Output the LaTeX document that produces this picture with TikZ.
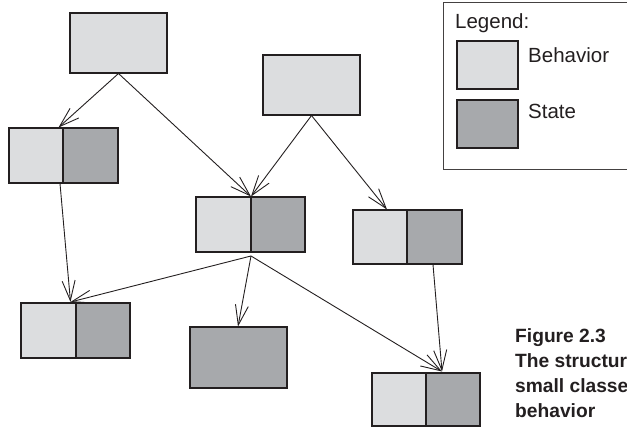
\documentclass[tikz,border=0pt]{standalone}
\usepackage{fontspec}
\setmainfont{Liberation Sans}
\usetikzlibrary{arrows.meta}
\definecolor{behav}{HTML}{DCDDDF}
\definecolor{statec}{HTML}{A7A9AC}
\definecolor{ink}{HTML}{231F20}
\tikzset{
  box/.style={draw=ink, line width=1.5pt, inner sep=0pt, rectangle},
  behavbox/.style={box, fill=behav},
  statebox/.style={box, fill=statec},
  link/.style={draw=ink, line width=0.9pt, -{Straight Barb[length=20pt, width=13pt, line width=0.9pt]}},
  legtext/.style={anchor=base west, inner sep=0pt, font=\fontsize{20.5}{24}\selectfont, text=ink},
  captext/.style={anchor=base west, inner sep=0pt, font=\fontsize{19.2}{25}\selectfont\bfseries, text=ink}
}
\begin{document}
\begin{tikzpicture}[x=1pt, y=-1pt]
\useasboundingbox (0,0) rectangle (627,427);
\begin{scope}
\clip (0,0) rectangle (627,427);
% legend
\node[draw=ink!85, line width=0.8pt, inner sep=0pt, minimum width=197pt, minimum height=167pt, anchor=north west] (legend) at (443,2) {};
\node[legtext] (legtitle) at (455,29) {Legend:};
\node[behavbox, line width=1.2pt, minimum width=61pt, minimum height=48pt] (legb) at (487.5,65) {};
\node[statebox, line width=1.2pt, minimum width=61pt, minimum height=48pt] (legs) at (487.5,124) {};
\node[legtext] (legbt) at (528,63) {Behavior};
\node[legtext] (legst) at (528,119) {State};
% caption
\node[captext] (cap1) at (515,342.5) {Figure 2.3};
\node[captext] (cap2) at (515,367.5) {The structure};
\node[captext] (cap3) at (515,392.5) {small classes};
\node[captext] (cap4) at (515,417.5) {behavior};
% boxes
\node[behavbox, minimum width=97pt, minimum height=60pt] (t1) at (118.5,43) {};
\node[behavbox, minimum width=97pt, minimum height=60pt] (t2) at (311.5,85) {};
\node[behavbox, minimum width=54pt, minimum height=55pt] (b1l) at (36,155.5) {};
\node[statebox, minimum width=55pt, minimum height=55pt] (b1r) at (90.5,155.5) {};
\node[behavbox, minimum width=55pt, minimum height=55pt] (b3l) at (223.5,224.5) {};
\node[statebox, minimum width=54pt, minimum height=55pt] (b3r) at (278,224.5) {};
\node[behavbox, minimum width=54pt, minimum height=54pt] (b5l) at (380,237) {};
\node[statebox, minimum width=55pt, minimum height=54pt] (b5r) at (434.5,237) {};
\node[behavbox, minimum width=55pt, minimum height=55pt] (b4l) at (48.5,330.5) {};
\node[statebox, minimum width=54pt, minimum height=55pt] (b4r) at (103,330.5) {};
\node[statebox, minimum width=97pt, minimum height=61pt] (s1) at (238.5,357.5) {};
\node[behavbox, minimum width=54pt, minimum height=53pt] (b6l) at (399,399.5) {};
\node[statebox, minimum width=54pt, minimum height=53pt] (b6r) at (453,399.5) {};
% attachment points
\coordinate (t1out) at (118.5,73.5);
\coordinate (t2out) at (311.5,115.5);
\coordinate (b1in) at (58.5,127.5);
\coordinate (b1out) at (60,183.5);
\coordinate (b3in) at (251,196.5);
\coordinate (b3out) at (251,256);
\coordinate (b5in) at (387,209.5);
\coordinate (b5out) at (433,264.5);
\coordinate (b4in) at (70.5,302);
\coordinate (s1in) at (238,326.5);
\coordinate (b6in) at (442,371.5);
% connectors
\draw[link] (t1out) -- (b1in);
\draw[link] (t1out) -- (b3in);
\draw[link] (t2out) -- (b3in);
\draw[link] (t2out) -- (b5in);
\draw[link] (b1out) -- (b4in);
\draw[link] (b3out) -- (b4in);
\draw[link] (b3out) -- (s1in);
\draw[link] (b3out) -- (b6in);
\draw[link] (b5out) -- (b6in);
\end{scope}
\end{tikzpicture}
\end{document}
